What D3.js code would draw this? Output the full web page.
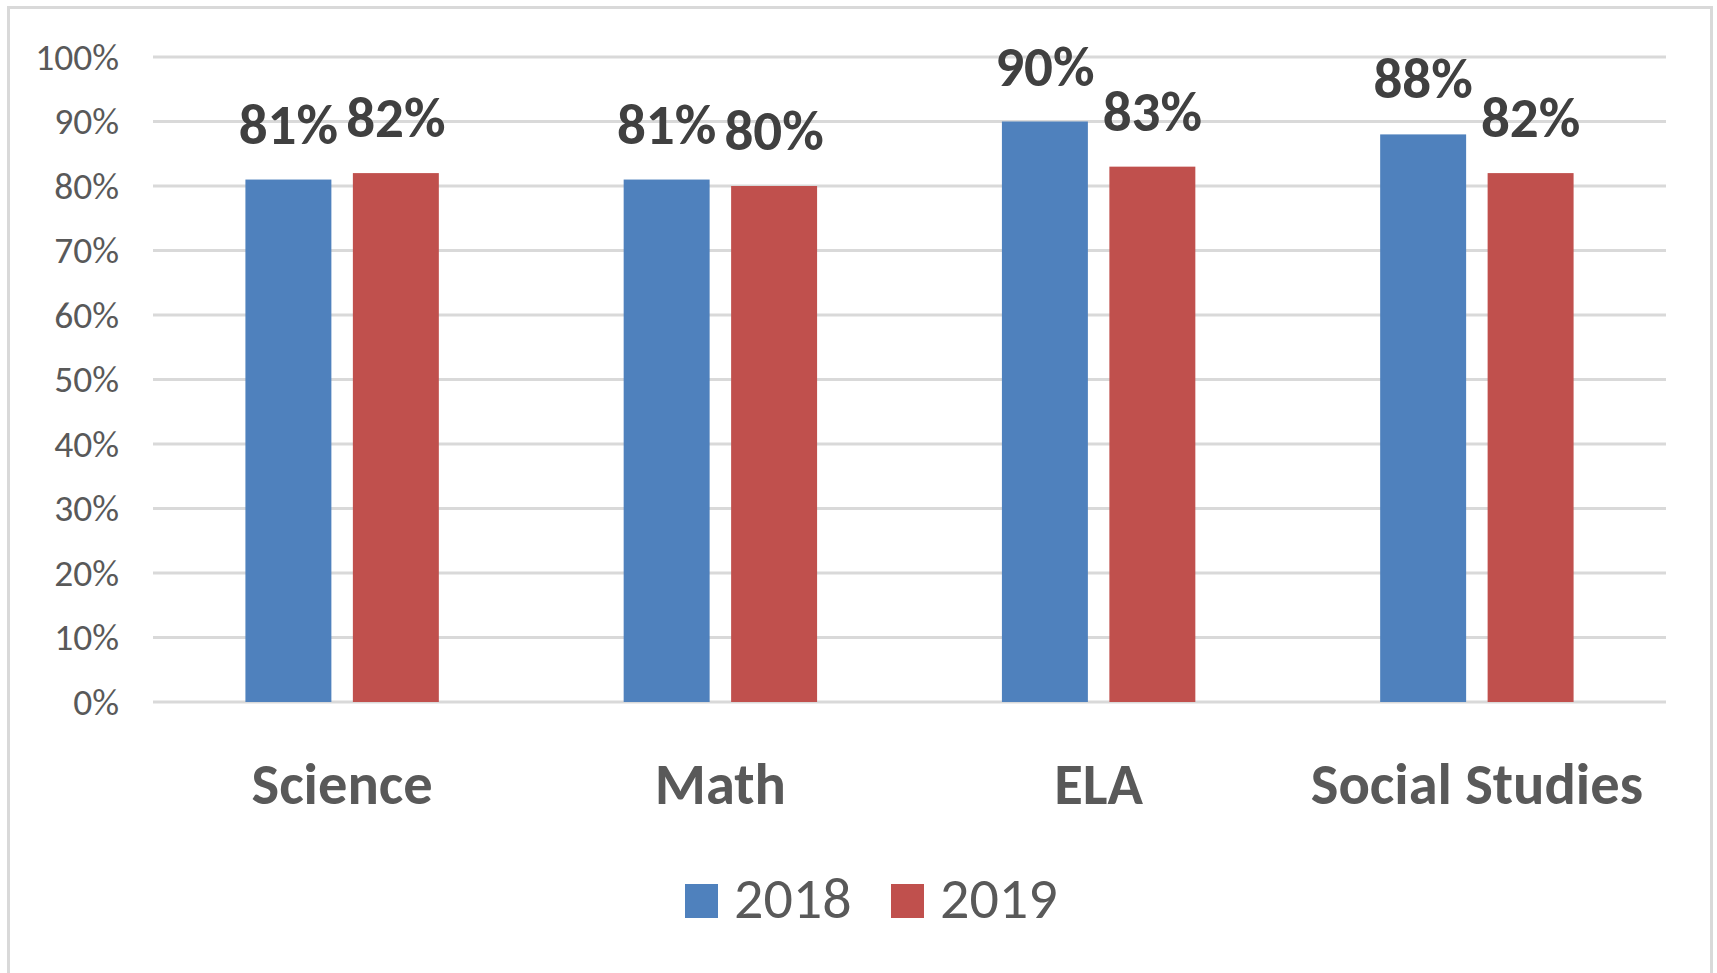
<!DOCTYPE html>
<html>
<head>
<meta charset="utf-8">
<script src="https://cdn.jsdelivr.net/npm/d3@7"></script>
<style>
  body { margin: 0; background: #fff; }
  text { font-family: Carlito, Calibri, "Open Sans", sans-serif; }
</style>
</head>
<body>
<div id="chart"></div>
<script>
//Values
const subjects = ["Science", "Math", "ELA", "Social Studies"]
const years = ["2018", "2019"]
const scores2018 = [0.81, 0.81, 0.90, 0.88]
const scores2019 = [0.82, 0.80, 0.83, 0.82]
const yTicks = [0, 0.1, 0.2, 0.3, 0.4, 0.5, 0.6, 0.7, 0.8, 0.9, 1]

const width = 1717
const height = 973

let color = d3.scaleOrdinal()
              .domain(years)
              .range(["#4f81bd", "#c0504d"])

let rows = subjects.map(function(s, i) {
  return { subject: s, values: [
    { year: "2018", value: scores2018[i] },
    { year: "2019", value: scores2019[i] }
  ]}
})

let svg = d3.select("#chart")
            .append("svg")
            .attr("width", width)
            .attr("height", height)

//Outer frame
svg.append("rect")
   .attr("x", 8.5)
   .attr("y", 7.5)
   .attr("width", 1703)
   .attr("height", 1000)
   .attr("fill", "#fff")
   .attr("stroke", "#d9d9d9")
   .attr("stroke-width", 3)

//Scales
let xScale = d3.scaleBand()
               .domain(subjects)
               .range([153, 1666])

let xInner = d3.scaleBand()
               .domain(years)
               .range([0, xScale.bandwidth()])
               .paddingInner(0.2)
               .paddingOuter(0.86)

let yScale = d3.scaleLinear()
               .domain([0, 1])
               .range([702, 57])

//Gridlines
svg.append("g")
   .selectAll("line")
   .data(yTicks)
   .enter().append("line")
   .attr("x1", 153)
   .attr("x2", 1666)
   .attr("y1", d => yScale(d))
   .attr("y2", d => yScale(d))
   .attr("stroke", "#d9d9d9")
   .attr("stroke-width", 3)

//Y axis labels
let yAxis = d3.axisLeft(yScale)
              .tickValues(yTicks)
              .tickFormat(d3.format(".0%"))
              .tickSize(0)
              .tickPadding(0)

svg.append("g")
   .attr("transform", "translate(119,0)")
   .call(yAxis)
   .call(g => g.select(".domain").remove())
   .selectAll("text")
   .attr("font-size", 37.5)
   .attr("font-family", null)
   .attr("fill", "#595959")
   .attr("dy", "0.33em")

//Bars
let groups = svg.selectAll(".group")
                .data(rows)
                .enter().append("g")
                .attr("class", "group")
                .attr("transform", d => "translate(" + xScale(d.subject) + ",0)")

groups.selectAll("rect")
      .data(d => d.values)
      .enter().append("rect")
      .attr("x", d => xInner(d.year))
      .attr("width", xInner.bandwidth())
      .attr("y", d => yScale(d.value))
      .attr("height", d => yScale(0) - yScale(d.value))
      .attr("fill", d => color(d.year))

//Value labels
groups.selectAll(".value")
      .data(d => d.values)
      .enter().append("text")
      .attr("class", "value")
      .attr("x", d => xInner(d.year) + xInner.bandwidth() / 2)
      .attr("y", d => yScale(d.value) - 36)
      .attr("text-anchor", "middle")
      .attr("font-size", 57)
      .attr("font-weight", "bold")
      .attr("fill", "#404040")
      .text(d => d3.format(".0%")(d.value))

//Category labels
let xAxis = d3.axisBottom(xScale)
              .tickSize(0)
              .tickPadding(0)

svg.append("g")
   .attr("transform", "translate(0,804)")
   .call(xAxis)
   .call(g => g.select(".domain").remove())
   .selectAll("text")
   .attr("dy", 0)
   .attr("font-size", 58.5)
   .attr("font-family", null)
   .attr("font-weight", "bold")
   .attr("fill", "#595959")

//Legend
let legend = svg.selectAll(".legend")
                .data(years)
                .enter().append("g")
                .attr("class", "legend")
                .attr("transform", (d, i) => "translate(" + (685 + i * 206) + ",0)")

legend.append("rect")
      .attr("x", 0)
      .attr("y", 884)
      .attr("width", 33)
      .attr("height", 34)
      .attr("fill", d => color(d))

legend.append("text")
      .attr("x", 49)
      .attr("y", 918)
      .attr("font-size", 58)
      .attr("fill", "#595959")
      .text(d => d)
</script>
</body>
</html>
